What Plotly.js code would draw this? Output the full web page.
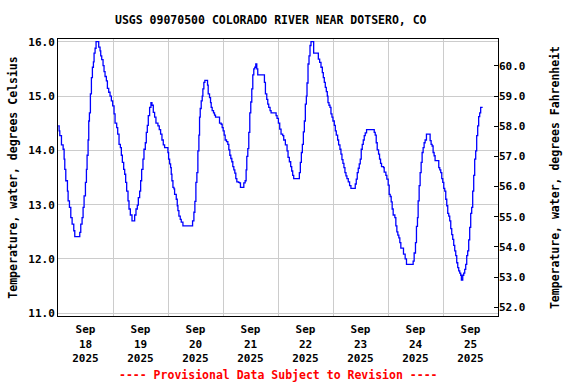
<!DOCTYPE html>
<html>
<head>
<meta charset="utf-8">
<script src="https://cdn.plot.ly/plotly-3.0.1.min.js"></script>
<style>html,body{margin:0;padding:0;background:#fff;}#chart{width:576px;height:384px;}</style>
</head>
<body>
<div id="chart"></div>
<script>
// Hours since 2025-09-18 00:00 and water temperature (deg C)
const startDate = Date.UTC(2025, 8, 18, 0, 0, 0);

const hoursSep18 = [0.06,0.49,0.78,1.51,2.24,2.67,2.96,3.40,4.12,4.41,4.99,5.58,6.16,6.88,7.32,9.21,9.50,9.93,10.51,10.95,11.38,11.97,12.40,12.69,13.13,13.42,13.71,14.14,14.58,15.01,15.45,15.74,16.18,16.61,17.48,17.77,18.35,18.64,19.08,19.66,20.09,20.53,21.11,21.55,22.13,22.71,23.29,23.87];
const tempSep18 = [14.45,14.36,14.27,14.10,14.02,13.84,13.65,13.44,13.25,13.07,12.95,12.76,12.64,12.52,12.41,12.41,12.49,12.64,12.76,12.95,13.16,13.41,13.65,13.91,14.19,14.54,14.69,15.04,15.34,15.53,15.63,15.79,15.88,16.00,16.00,15.90,15.83,15.74,15.67,15.56,15.45,15.36,15.28,15.14,15.07,15.00,14.91,14.82];

const hoursSep19 = [24.45,24.89,25.61,26.05,26.63,27.21,27.64,28.08,28.66,29.10,29.53,29.97,30.55,30.98,31.56,32.29,33.16,33.45,34.03,34.61,35.05,35.63,36.06,36.50,37.08,37.52,38.10,38.53,38.97,39.40,39.98,40.56,41.00,41.58,42.16,42.74,43.61,44.19,44.77,45.36,45.94,46.52];
const tempSep19 = [14.67,14.50,14.42,14.30,14.11,14.05,13.91,13.78,13.65,13.56,13.41,13.25,13.07,12.92,12.81,12.70,12.70,12.81,12.92,12.99,13.13,13.25,13.44,13.65,13.84,14.02,14.14,14.33,14.46,14.64,14.79,14.88,14.83,14.70,14.61,14.50,14.45,14.38,14.30,14.19,14.10,14.05];

const hoursSep20to21 = [47.68,47.97,48.26,48.70,49.13,49.42,49.71,50.15,50.59,50.88,51.60,52.04,52.33,52.76,53.34,53.78,54.51,58.43,58.72,59.30,59.73,60.17,60.60,61.04,61.48,61.77,62.06,62.49,62.93,63.22,63.65,64.09,64.96,65.25,65.54,66.12,66.56,66.85,67.28,67.86,68.30,68.73,70.04,70.48,71.20,71.64,72.07,72.51,72.94,73.53,74.11,74.54,74.98,75.41,75.85,76.28,76.72,77.16,77.59,78.03,78.75,79.19,79.62,80.79,81.08,81.66,82.09,82.38,82.82,83.25,83.69,84.12,84.56,85.00,85.43,85.87,86.30,86.74,87.17,89.79,90.08,90.51,91.09,91.53,91.96,92.54,92.98,94.87];
const tempSep20to21 = [14.05,13.96,13.84,13.75,13.68,13.56,13.44,13.32,13.29,13.19,13.10,12.98,12.89,12.79,12.73,12.68,12.61,12.61,12.70,12.86,13.06,13.41,13.59,13.99,14.28,14.61,14.77,14.91,15.00,15.13,15.25,15.29,15.29,15.20,15.04,14.97,14.88,14.79,14.73,14.69,14.65,14.61,14.61,14.50,14.48,14.42,14.36,14.28,14.19,14.16,14.11,14.01,13.91,13.85,13.79,13.70,13.64,13.58,13.48,13.42,13.41,13.40,13.32,13.32,13.40,13.44,13.64,13.89,14.03,14.33,14.69,14.89,15.13,15.39,15.50,15.53,15.59,15.50,15.39,15.39,15.25,15.04,14.94,14.85,14.79,14.73,14.69,14.69];

const hoursSep22to23 = [95.16,95.59,96.17,96.75,97.33,98.06,98.50,99.22,99.95,100.38,100.96,101.54,101.98,102.41,102.85,104.88,105.32,105.75,106.19,106.63,107.06,107.50,107.93,108.37,108.66,109.10,109.53,109.97,110.40,111.28,111.56,113.31,113.60,114.18,114.76,115.34,115.77,116.21,116.64,117.08,117.51,117.81,118.24,118.68,119.11,119.55,119.98,120.56,121.00,121.43,122.02,122.45,123.03,123.47,123.90,124.34,124.77,125.21,125.65,126.08,126.66,127.24,127.82,129.28,129.71,130.15,130.58,131.02,131.45,131.89,132.32,132.76,133.20,133.63,134.07,134.65,137.55,137.99,138.42,138.86,139.29,139.88,140.31,140.75,141.18,142.05];
const tempSep22to23 = [14.64,14.59,14.50,14.39,14.30,14.27,14.19,14.10,13.99,13.87,13.79,13.70,13.62,13.54,13.48,13.48,13.59,13.78,13.96,14.11,14.34,14.54,14.85,15.00,15.24,15.59,15.74,15.93,16.00,16.00,15.79,15.79,15.68,15.62,15.53,15.43,15.34,15.25,15.16,15.08,15.00,14.88,14.83,14.79,14.67,14.61,14.54,14.46,14.36,14.28,14.19,14.10,14.02,13.93,13.83,13.76,13.68,13.59,13.53,13.48,13.42,13.35,13.30,13.30,13.38,13.47,13.59,13.67,13.75,13.84,14.02,14.11,14.19,14.27,14.32,14.38,14.38,14.33,14.28,14.14,14.01,13.93,13.84,13.76,13.70,13.68];

const hoursSep24to25 = [142.34,143.07,143.50,144.08,144.52,144.95,145.39,145.82,146.26,146.99,147.42,147.86,148.29,148.73,149.16,149.60,150.33,150.76,151.49,152.07,154.54,154.97,155.41,155.99,156.42,156.86,157.15,157.59,158.02,158.46,158.89,159.33,159.76,160.20,160.78,162.09,162.38,162.81,163.25,163.68,164.12,164.55,165.86,166.15,166.59,167.02,167.46,167.90,168.33,168.76,169.20,169.64,170.07,170.51,170.94,171.38,171.81,172.25,172.68,173.12,173.56,173.99,174.43,174.86,175.30,175.73,176.02,176.31,176.61,177.04,177.48,177.91,178.35,178.78,179.22,179.65,180.09,180.52,180.96,181.40,181.83,182.27,182.70,183.14,183.57,184.01,184.44,185.31];
const tempSep24to25 = [13.60,13.54,13.47,13.36,13.19,13.15,13.05,12.92,12.81,12.76,12.61,12.50,12.44,12.39,12.30,12.20,12.20,12.09,12.00,11.90,11.90,11.96,12.11,12.30,12.60,12.76,13.07,13.35,13.59,13.78,13.96,14.05,14.14,14.19,14.30,14.30,14.18,14.11,14.08,13.96,13.90,13.81,13.81,13.68,13.64,13.59,13.48,13.41,13.30,13.25,13.10,12.98,12.84,12.79,12.70,12.56,12.45,12.36,12.25,12.15,12.06,11.93,11.84,11.78,11.74,11.70,11.61,11.61,11.70,11.74,11.81,11.90,12.06,12.15,12.35,12.58,12.84,12.95,13.25,13.54,13.84,13.99,14.27,14.45,14.62,14.69,14.79,14.79];

const rightTicksF = [52, 53, 54, 55, 56, 57, 58, 59, 60];
const leftTicksC = [11, 12, 13, 14, 15, 16];

const hoursAll = [].concat(hoursSep18, hoursSep19, hoursSep20to21, hoursSep22to23, hoursSep24to25);
const tempAll = [].concat(tempSep18, tempSep19, tempSep20to21, tempSep22to23, tempSep24to25);

function toDateStr(h) {
  return new Date(startDate + h * 3600000).toISOString().replace('T', ' ').slice(0, 19);
}
const xDates = hoursAll.map(toDateStr);

const cRange = [10.95, 16.05];
const fRange = cRange.map(c => c * 1.8 + 32);

const FONT = 'DejaVu Sans Mono, Liberation Mono, monospace';

const traces = [
  {
    x: xDates, y: tempAll, type: 'scatter', mode: 'lines',
    line: {color: '#0000ff', width: 1.3, shape: 'hv'},
    hoverinfo: 'skip', showlegend: false
  },
  {
    x: [], y: [], type: 'scatter', mode: 'lines', yaxis: 'y2',
    hoverinfo: 'skip', showlegend: false
  }
];

const layout = {
  width: 576, height: 384,
  margin: {l: 58, r: 78, t: 39, b: 68, pad: 0},
  paper_bgcolor: '#ffffff', plot_bgcolor: '#ffffff',
  showlegend: false,
  font: {family: FONT, size: 11, color: '#000000', weight: 'bold'},
  title: {
    text: 'USGS 09070500 COLORADO RIVER NEAR DOTSERO, CO',
    font: {family: FONT, size: 11.5, color: '#000000', weight: 'bold'},
    x: 0.4835, xanchor: 'center', y: 0.948, yanchor: 'middle', xref: 'paper', yref: 'container'
  },
  xaxis: {
    type: 'date',
    range: [toDateStr(0), toDateStr(192)],
    dtick: 86400000, tick0: toDateStr(0),
    ticklabelmode: 'period',
    tickformat: '%b<br>%d<br>%Y',
    showgrid: true, gridcolor: '#cccccc', gridwidth: 1,
    ticks: 'outside', ticklen: 3, tickcolor: 'rgba(0,0,0,0)',
    showline: true, linecolor: '#000000', linewidth: 1, mirror: true,
    zeroline: false,
    tickfont: {family: FONT, size: 11, color: '#000000', weight: 'bold'}
  },
  yaxis: {
    range: cRange,
    tickvals: leftTicksC,
    ticktext: leftTicksC.map(v => v.toFixed(1)),
    showgrid: true, gridcolor: '#cccccc', gridwidth: 1,
    ticks: '', showline: true, linecolor: '#000000', linewidth: 1, mirror: true,
    zeroline: false,
    tickfont: {family: FONT, size: 11, color: '#000000', weight: 'bold'},
    title: {text: 'Temperature, water, degrees Celsius', standoff: 8,
            font: {family: FONT, size: 11.5, color: '#000000', weight: 'bold'}}
  },
  yaxis2: {
    overlaying: 'y', side: 'right', anchor: 'x',
    range: fRange,
    tickvals: rightTicksF,
    ticktext: rightTicksF.map(v => v.toFixed(1)),
    showgrid: false, zeroline: false, showline: false,
    ticks: 'inside', ticklen: 4, tickcolor: '#000000', tickwidth: 1,
    tickfont: {family: FONT, size: 11, color: '#000000', weight: 'bold'},
    title: {text: 'Temperature, water, degrees Fahrenheit', standoff: 26,
            font: {family: FONT, size: 11.5, color: '#000000', weight: 'bold'}}
  },
  annotations: [{
    text: '---- Provisional Data Subject to Revision ----',
    xref: 'paper', yref: 'paper', x: 0.5, y: -0.213, xanchor: 'center', yanchor: 'middle',
    showarrow: false,
    font: {family: FONT, size: 11.5, color: '#ff0000', weight: 'bold'}
  }]
};

Plotly.newPlot('chart', traces, layout, {displayModeBar: false, staticPlot: true});
</script>
</body>
</html>
